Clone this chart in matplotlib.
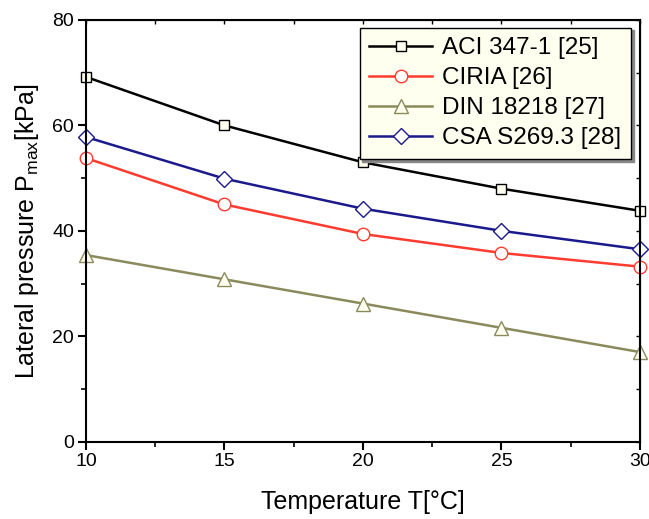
import numpy as np
import matplotlib.pyplot as plt

plt.rcParams['font.family'] = ['Liberation Sans', 'DejaVu Sans']

# data
temperature = [10, 15, 20, 25, 30]
aci = [69.2, 60.0, 53.0, 48.0, 43.8]
ciria = [53.8, 45.0, 39.4, 35.8, 33.2]
din = [35.4, 30.8, 26.2, 21.6, 17.0]
csa = [57.8, 49.9, 44.2, 40.0, 36.5]

labels = ["ACI 347-1 [25]", "CIRIA [26]", "DIN 18218 [27]", "CSA S269.3 [28]"]

fig = plt.figure(figsize=(6.49, 5.19), dpi=100)
ax = fig.add_axes([0.1325, 0.149, 0.8535, 0.8125])

ax.plot(temperature, aci, color='black', lw=1.8, marker='s', ms=7,
        mfc='#fffff0', mec='black', mew=1.0, label=labels[0], clip_on=False)
ax.plot(temperature, ciria, color='#ff3b30', lw=1.8, marker='o', ms=9,
        mfc='white', mec='#ff3b30', mew=1.0, label=labels[1], clip_on=False)
ax.plot(temperature, din, color='#8a8a5c', lw=1.8, marker='^', ms=10,
        mfc='#fffff0', mec='#8a8a5c', mew=1.0, label=labels[2], clip_on=False)
ax.plot(temperature, csa, color='#1a1a8c', lw=1.8, marker='D', ms=8,
        mfc='white', mec='#1a1a8c', mew=1.0, label=labels[3], clip_on=False)

ax.set_xlim(10, 30)
ax.set_ylim(0, 80)
ax.set_xticks([10, 15, 20, 25, 30])
ax.set_yticks([0, 20, 40, 60, 80])
ax.set_xticks(np.arange(12.5, 30, 5), minor=True)
ax.set_yticks(np.arange(10, 80, 20), minor=True)
ax.tick_params(which='major', direction='out', length=6, width=1.5, labelsize=14,
               pad=2.5, top=False, right=False)
ax.tick_params(which='minor', direction='out', length=3.5, width=1.2,
               top=False, right=False)
for s in ax.spines.values():
    s.set_linewidth(1.5)

# small inner ticks on top and right spines
tx = ax.secondary_xaxis('top')
tx.set_xticks([10, 12.5, 15, 17.5, 20, 22.5, 25, 27.5, 30])
tx.tick_params(direction='in', length=3, width=1.0, labeltop=False)
ty = ax.secondary_yaxis('right')
ty.set_yticks(np.arange(0, 81, 10))
ty.tick_params(direction='in', length=3, width=1.0, labelright=False)

ax.set_xlabel("Temperature T[°C]", fontsize=18, labelpad=14)
ax.set_ylabel("Lateral pressure P$_{\\mathregular{max}}$[kPa]", fontsize=18, labelpad=8)

leg = ax.legend(loc='upper right', bbox_to_anchor=(0.984, 0.982), fontsize=17.5,
                frameon=True, fancybox=False, shadow={'color': '#888888', 'alpha': 1.0},
                borderpad=0.4, handlelength=2.6, handletextpad=0.4, labelspacing=0.33,
                borderaxespad=0)
leg.get_frame().set_facecolor('#fffff0')
leg.get_frame().set_edgecolor('black')
leg.get_frame().set_linewidth(1.0)

fig.savefig('out.png', dpi=100)
